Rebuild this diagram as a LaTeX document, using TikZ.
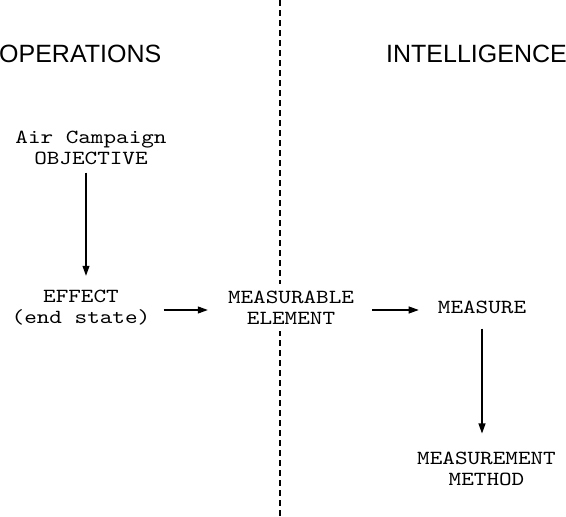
\documentclass[tikz,border=0pt]{standalone}
\usepackage{fontspec}
\newfontfamily\cour{lmmono10-regular.otf}[FakeStretch=1.2]
\newfontfamily\headfont{Liberation Sans}
\usetikzlibrary{arrows.meta}
\begin{document}
\begin{tikzpicture}[x=1pt,y=-1pt,
  lbl/.style={inner sep=0pt, align=center, font=\cour\fontsize{20}{21}\selectfont},
  head/.style={inner sep=0pt, font=\headfont\fontsize{25}{25}\selectfont},
  arr/.style={line width=1.1pt, -{Triangle[length=10pt,width=7pt]}},
  divider/.style={line width=1.6pt, dash pattern=on 6pt off 4pt}]
\useasboundingbox (0,0) rectangle (566,517);
\coordinate (dtop) at (280,0);
\coordinate (dbot) at (280,517);
\draw[divider] (dtop) -- (dbot);
\node[head, anchor=west] (ops) at (-1,54) {OPERATIONS};
\node[head, anchor=east] (intel) at (567,54) {INTELLIGENCE};
\node[lbl] (obj) at (91,147.5) {Air Campaign\\OBJECTIVE};
\node[lbl] (eff) at (81,307.5) {EFFECT\\(end state)};
\node[lbl, fill=white, inner ysep=7pt] (me) at (291,307.5) {MEASURABLE\\ELEMENT};
\node[lbl] (meas) at (482,307) {MEASURE};
\node[lbl] (mm) at (486.5,468.5) {MEASUREMENT\\METHOD};
\draw[arr] ([xshift=-5pt,yshift=-8pt]obj.south) -- ([xshift=5pt,yshift=14pt]eff.north);
\draw[arr, shorten <=13pt, shorten >=20pt] ([yshift=-2.5pt]eff.east) -- ([yshift=-2.5pt]me.west);
\draw[arr, shorten <=18pt, shorten >=19pt] ([yshift=-2.5pt]me.east) -- ([yshift=-3pt]meas.west);
\draw[arr, shorten <=15pt, shorten >=18pt] (meas.south) -- ([xshift=-4.5pt]mm.north);
\end{tikzpicture}
\end{document}
